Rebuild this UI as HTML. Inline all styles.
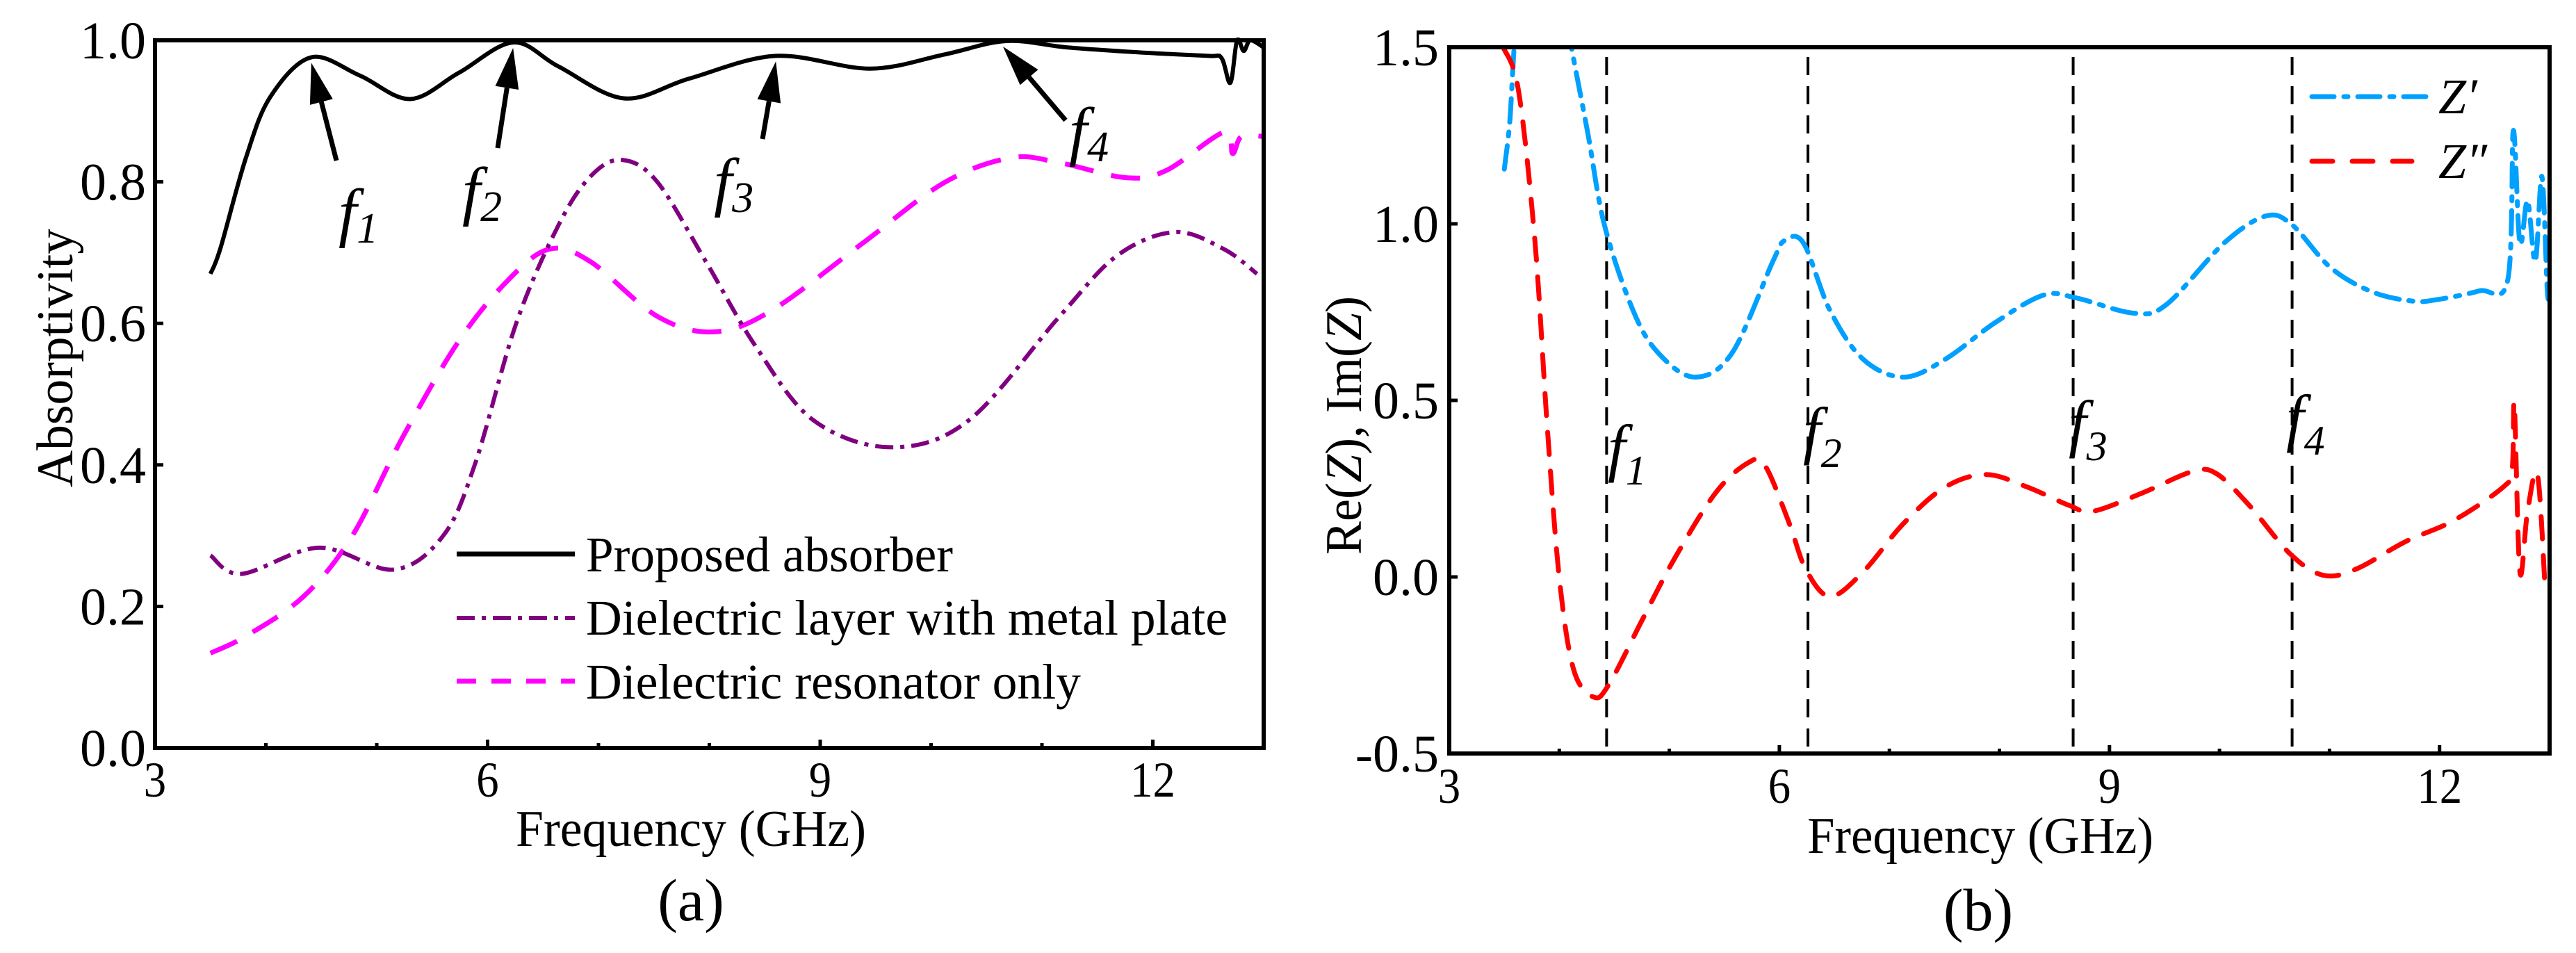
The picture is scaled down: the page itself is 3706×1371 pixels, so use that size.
<!DOCTYPE html>
<html><head><meta charset="utf-8"><style>
html,body{margin:0;padding:0;background:#fff}
svg{display:block}
text{font-family:"Liberation Serif",serif;fill:#000}
</style></head><body>
<svg id="fig" width="3706" height="1371" viewBox="0 0 3706 1371" xmlns="http://www.w3.org/2000/svg">
<g id="pa"></g>
<g id="pb"></g>
</svg>
<script>
// ---- Panel (a) data ----
const aFreq = [3.5,3.59,3.82,4.04,4.41,4.85,5.3,5.74,6.23,6.64,7.23,7.82,8.6,9.45,10.12,10.68,11.23,11.98,12.5,12.62,12.7,12.76,12.82,12.88,13.0];
const aProposed = [0.67,0.706,0.834,0.92,0.976,0.95,0.917,0.954,0.997,0.963,0.918,0.946,0.978,0.96,0.98,0.999,0.99,0.982,0.978,0.975,0.94,1.0,0.985,1.0,0.99];
const bFreq = [3.5,3.78,4.48,5.15,5.6,5.89,6.26,6.64,6.93,7.21,7.53,7.97,8.42,8.94,9.64,10.34,11.16,11.68,12.2,12.64,12.94];
const aMetal = [0.272,0.246,0.283,0.252,0.3,0.403,0.601,0.739,0.808,0.831,0.8,0.687,0.567,0.463,0.425,0.463,0.61,0.696,0.729,0.705,0.67];
const cFreq = [3.5,3.82,4.34,4.78,5.23,5.74,6.19,6.56,6.93,7.53,8.04,8.56,9.38,10.12,10.72,11.16,11.75,12.12,12.64,12.72,12.8,13.0];
const aResonator = [0.134,0.158,0.214,0.3,0.438,0.575,0.662,0.705,0.687,0.61,0.588,0.618,0.713,0.799,0.834,0.827,0.806,0.816,0.87,0.84,0.864,0.864];
const aXTicks = [3,6,9,12];
const aYTicks = [0,0.2,0.4,0.6,0.8,1.0];
const aYLabels = ["0.0","0.2","0.4","0.6","0.8","1.0"];
const aMarkers = [4.41,6.23,8.6,10.68];
// ---- Panel (b) data ----
const zFreq = [3.5,3.55,3.59,3.62];
const zRe0 = [1.155,1.29,1.5,1.55];
const zFreq2 = [4.08,4.11,4.26,4.41,4.67,4.9,5.23,5.57,5.94,6.05,6.22,6.46,6.76,7.13,7.51,7.96,8.4,8.7,9.22,9.52,10.04,10.42,10.66,11.01,11.39,11.76,11.99,12.36,12.62,12.67,12.73,12.8,12.87,12.93,12.98,13.0];
const zRe = [1.56,1.5,1.255,0.997,0.755,0.634,0.566,0.634,0.893,0.953,0.945,0.755,0.617,0.566,0.617,0.72,0.798,0.79,0.747,0.772,0.945,1.022,0.997,0.876,0.807,0.781,0.786,0.81,0.841,1.264,0.945,1.066,0.893,1.134,0.807,0.82];
const iFreq = [3.49,3.63,3.78,3.89,4.0,4.13,4.31,4.45,4.75,5.04,5.42,5.72,5.87,6.09,6.24,6.46,6.76,7.13,7.51,7.88,8.25,8.63,8.85,9.3,9.75,9.97,10.27,10.64,10.94,11.24,11.69,12.13,12.58,12.66,12.68,12.73,12.8,12.89,12.96];
const zIm = [1.5,1.376,0.945,0.428,-0.003,-0.262,-0.34,-0.305,-0.124,0.048,0.238,0.324,0.315,0.152,0.022,-0.055,0.014,0.152,0.255,0.29,0.255,0.203,0.186,0.238,0.298,0.293,0.203,0.066,0.005,0.022,0.1,0.16,0.255,0.307,0.488,0.014,0.186,0.29,-0.038];
const bXTicks = [3,6,9,12];
const bYTicks = [-0.5,0,0.5,1.0,1.5];
const bYLabels = ["-0.5","0.0","0.5","1.0","1.5"];
const bMarkers = [4.43,6.26,8.67,10.66];

const NS="http://www.w3.org/2000/svg";
function mk(parent,tag,attrs){const e=document.createElementNS(NS,tag);for(const k in attrs)e.setAttribute(k,attrs[k]);parent.appendChild(e);return e;}
function smooth(xs,ys,X,Y){
  const p=xs.map((x,i)=>[X(x),Y(ys[i])]);
  let d="M"+p[0][0].toFixed(1)+","+p[0][1].toFixed(1);
  for(let i=0;i<p.length-1;i++){
    const p0=p[i-1]||p[i],p1=p[i],p2=p[i+1],p3=p[i+2]||p2;
    const t=0.5/3;
    const c1=[p1[0]+(p2[0]-p0[0])*t,p1[1]+(p2[1]-p0[1])*t];
    const c2=[p2[0]-(p3[0]-p1[0])*t,p2[1]-(p3[1]-p1[1])*t];
    d+="C"+c1.map(v=>v.toFixed(1))+" "+c2.map(v=>v.toFixed(1))+" "+p2.map(v=>v.toFixed(1));
  }
  return d;
}
function clipRect(svgG,id,x0,y0,x1,y1){const defs=mk(svgG,'defs',{});const c=mk(defs,'clipPath',{id:id});mk(c,'rect',{x:x0,y:y0,width:x1-x0,height:y1-y0});}

// ---------- Panel A ----------
(function(){
  const g=document.getElementById('pa');
  const L=223,R=1818,T=58,B=1076;
  const X=f=>L+(f-3)*(R-L)/10, Y=v=>B-v*(B-T);
  clipRect(g,'ca',L,T-4,R,B);
  const data=mk(g,'g',{'clip-path':'url(#ca)'});
  
  
  let e=mk(data,'path',{d:smooth(cFreq,aResonator,X,Y),fill:'none',stroke:'#ff00ff','stroke-width':7,'stroke-dasharray':'42 26'});
  
  e=mk(data,'path',{d:smooth(bFreq,aMetal,X,Y),fill:'none',stroke:'#800080','stroke-width':6,'stroke-dasharray':'26 10 6 10'});
  
  e=mk(data,'path',{d:smooth(aFreq,aProposed,X,Y),fill:'none',stroke:'#000','stroke-width':6});
  
  e=mk(g,'rect',{x:L,y:T,width:R-L,height:B-T,fill:'none',stroke:'#000','stroke-width':6});
  
  for(let f=4;f<13;f++){const big=aXTicks.includes(f);
    e=mk(g,'line',{x1:X(f),x2:X(f),y1:B,y2:B-(big?12:7),stroke:'#000','stroke-width':5});
    }
  aXTicks.forEach(f=>{e=mk(g,'text',{x:X(f),y:1146,'font-size':72,'text-anchor':'middle',transform:`translate(${X(f)},0) scale(0.9,1) translate(${-X(f)},0)`});e.textContent=String(f);
    });
  aYTicks.forEach((v,i)=>{e=mk(g,'line',{x1:L,x2:L+12,y1:Y(v),y2:Y(v),stroke:'#000','stroke-width':5});
    
    e=mk(g,'text',{x:210,y:Y(v)+26,'font-size':76,'text-anchor':'end'});e.textContent=aYLabels[i];
    });
  e=mk(g,'text',{x:994,y:1217,'font-size':74,'text-anchor':'middle',textLength:504,lengthAdjust:'spacingAndGlyphs'});e.textContent='Frequency (GHz)';
  
  e=mk(g,'text',{x:994,y:1324,'font-size':86,'text-anchor':'middle'});e.textContent='(a)';
  
  e=mk(g,'text',{x:0,y:0,'font-size':74,'text-anchor':'middle',textLength:372,lengthAdjust:'spacingAndGlyphs',transform:'translate(104,515) rotate(-90)'});e.textContent='Absorptivity';
  
  const tails=[[484,231],[716,213],[1097,200],[1533,173]];
  const labs=[[487,337],[665,306],[1027,293],[1538,220]];
  aMarkers.forEach((f,i)=>{
    const tx=X(f)+(i==3?-5:0), ty=Y(aProposed[aFreq.indexOf(f)])+8;
    const [sx,sy]=tails[i];const dx=tx-sx,dy=ty-sy,len=Math.hypot(dx,dy),ux=dx/len,uy=dy/len;
    const hx=tx-ux*58,hy=ty-uy*58;
    e=mk(g,'line',{x1:sx,y1:sy,x2:hx,y2:hy,stroke:'#000','stroke-width':7});
    
    e=mk(g,'polygon',{points:`${tx},${ty} ${hx-uy*17},${hy+ux*17} ${hx+uy*17},${hy-ux*17}`,fill:'#000'});
    
    e=mk(g,'text',{x:labs[i][0],y:labs[i][1],'font-size':94,'font-style':'italic'});
    e.innerHTML='f<tspan font-size="62" dy="12">'+(i+1)+'</tspan>';
    
  });
  const leg=[['#000','none',7,'Proposed absorber',797,822,528],['#800080','26 10 6 10',6,'Dielectric layer with metal plate',889,913,923],['#ff00ff','28 22',7,'Dielectric resonator only',980,1005,712]];
  leg.forEach((l,i)=>{
    e=mk(g,'line',{x1:657,x2:827,y1:l[4],y2:l[4],stroke:l[0],'stroke-width':l[2],'stroke-dasharray':l[1]});
    
    e=mk(g,'text',{x:843,y:l[5],'font-size':72,textLength:l[6],lengthAdjust:'spacingAndGlyphs'});e.textContent=l[3];
    
  });
})();

// ---------- Panel B ----------
(function(){
  const g=document.getElementById('pb');
  const L=2085,R=3668,T=68,B=1084;
  const X=f=>L+(f-3)*(R-L)/10, Y=v=>B-(v+0.5)*(B-T)/2;
  clipRect(g,'cb',L,T,R,B);
  const data=mk(g,'g',{'clip-path':'url(#cb)'});
  
  
  let e;
  bMarkers.forEach((f,i)=>{e=mk(data,'line',{x1:X(f),x2:X(f),y1:T+14,y2:B,stroke:'#000','stroke-width':4,'stroke-dasharray':'26 16'});
    });
  e=mk(data,'path',{d:smooth(zFreq,zRe0,X,Y),fill:'none',stroke:'#00a0ff','stroke-width':7,'stroke-dasharray':'34 14 6 14','stroke-linecap':'round'});
  
  e=mk(data,'path',{d:smooth(zFreq2,zRe,X,Y),fill:'none',stroke:'#00a0ff','stroke-width':7,'stroke-dasharray':'34 14 6 14','stroke-linecap':'round'});
  
  e=mk(data,'path',{d:smooth(iFreq,zIm,X,Y),fill:'none',stroke:'#ff0000','stroke-width':7,'stroke-dasharray':'32 24','stroke-linecap':'round'});
  
  e=mk(g,'rect',{x:L,y:T,width:R-L,height:B-T,fill:'none',stroke:'#000','stroke-width':6});
  
  for(let f=4;f<13;f++){const big=bXTicks.includes(f);
    e=mk(g,'line',{x1:X(f),x2:X(f),y1:B,y2:B-(big?12:7),stroke:'#000','stroke-width':5});
    }
  bXTicks.forEach(f=>{e=mk(g,'text',{x:X(f),y:1155,'font-size':72,'text-anchor':'middle',transform:`translate(${X(f)},0) scale(0.9,1) translate(${-X(f)},0)`});e.textContent=String(f);
    });
  bYTicks.forEach((v,i)=>{e=mk(g,'line',{x1:L,x2:L+12,y1:Y(v),y2:Y(v),stroke:'#000','stroke-width':5});
    
    e=mk(g,'text',{x:2070,y:Y(v)+26,'font-size':76,'text-anchor':'end'});e.textContent=bYLabels[i];
    });
  e=mk(g,'text',{x:2849,y:1227,'font-size':74,'text-anchor':'middle',textLength:498,lengthAdjust:'spacingAndGlyphs'});e.textContent='Frequency (GHz)';
  
  e=mk(g,'text',{x:2846,y:1338,'font-size':86,'text-anchor':'middle'});e.textContent='(b)';
  
  e=mk(g,'text',{x:0,y:0,'font-size':74,'text-anchor':'middle',textLength:372,lengthAdjust:'spacingAndGlyphs',transform:'translate(1958,612) rotate(-90)'});e.innerHTML='Re(<tspan font-style="italic">Z</tspan>), Im(<tspan font-style="italic">Z</tspan>)';
  
  const labs=[[2313,675],[2594,650],[2976,640],[3289,632]];
  labs.forEach((p,i)=>{e=mk(g,'text',{x:p[0],y:p[1],'font-size':92,'font-style':'italic'});
    e.innerHTML='f<tspan font-size="60" dy="22">'+(i+1)+'</tspan>';
    });
  e=mk(g,'line',{x1:3326,x2:3490,y1:139,y2:139,stroke:'#00a0ff','stroke-width':7,'stroke-dasharray':'32 14 6 14','stroke-linecap':'round'});
  
  e=mk(g,'line',{x1:3326,x2:3470,y1:232,y2:232,stroke:'#ff0000','stroke-width':7,'stroke-dasharray':'30 28','stroke-linecap':'round'});
  
  e=mk(g,'text',{x:3508,y:163,'font-size':72,'font-style':'italic'});e.textContent='Z\u2032';
  
  e=mk(g,'text',{x:3508,y:256,'font-size':72,'font-style':'italic'});e.textContent='Z\u2033';
  
})();
</script>
</body></html>
